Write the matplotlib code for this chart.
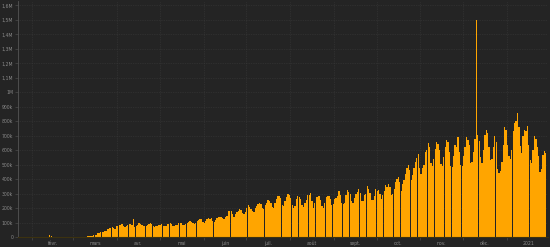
import numpy as np
import pandas as pd
import matplotlib
matplotlib.use("Agg")
import matplotlib.pyplot as plt
import matplotlib.dates as mdates
from matplotlib.ticker import FixedLocator, NullFormatter

# daily new cases, thousands (22 jan 2020 -> 28 jan 2021)
jan20 = [0.6, 0.1, 0.3, 0.5, 0.7, 0.8, 1.5, 1.2, 1.8, 2.1]
feb20 = [2.6, 2.8, 3.2, 3.9, 3.7, 3.2, 3.4, 2.7, 3.0, 2.6, 2.0, 0.5, 15.1, 6.5, 2.1,
         2.6, 2.1, 1.9, 0.5, 0.6, 1.0, 1.0, 0.6, 0.5, 0.9, 0.9, 1.2, 1.4, 1.8]
mar20 = [1.8, 2.0, 2.5, 2.2, 2.8, 2.9, 3.9, 3.8, 3.9, 4.6, 7.1, 7.6, 10.7, 11.0, 13.7,
         14.6, 18.8, 28.5, 31.6, 33.9, 33.3, 36.0, 45.5, 44.3, 55.0, 64.7, 66.5, 68.2,
         62.3, 60.3, 76.7]
apr20 = [78.5, 84.0, 86.1, 88.9, 74.5, 72.2, 76.3, 83.2, 88.5, 90.3, 86.9, 124.0, 73.0,
         75.5, 82.6, 96.0, 90.0, 86.4, 80.5, 76.8, 78.7, 84.0, 90.0, 97.0, 95.0, 80.5,
         72.7, 74.5, 79.0, 86.6]
may20 = [86.0, 91.0, 80.0, 75.0, 77.0, 91.0, 92.0, 97.0, 90.0, 81.0, 77.0, 84.0, 88.0,
         97.0, 100.0, 99.0, 83.0, 86.0, 95.0, 101.0, 108.0, 112.0, 105.0, 97.0, 93.0,
         98.0, 110.0, 120.0, 125.0, 129.0, 108.0]
jun20 = [102.0, 115.0, 125.0, 131.0, 129.0, 132.0, 114.0, 104.0, 120.0, 134.0, 138.0,
         137.0, 139.0, 131.0, 124.0, 140.0, 150.0, 184.0, 182.0, 180.0, 159.0, 142.0,
         163.0, 174.0, 182.0, 192.0, 188.0, 168.0, 160.0, 172.0]
jul20 = [205, 223, 210, 198, 182, 175, 205, 215, 228, 234, 230, 205, 198, 225, 240,
         257, 248, 240, 212, 205, 238, 265, 285, 282, 268, 222, 215, 250, 275, 299, 292]
aug20 = [268, 222, 205, 215, 262, 285, 280, 265, 220, 210, 235, 260, 290, 295, 308,
         250, 205, 240, 275, 280, 285, 258, 215, 200, 240, 280, 285, 284, 264, 220, 230]
sep20 = [265, 272, 285, 317, 292, 236, 230, 240, 290, 326, 312, 300, 248, 240, 270,
         300, 312, 333, 305, 250, 250, 290, 300, 354, 335, 305, 255, 257, 285, 331]
oct20 = [318, 326, 300, 265, 290, 320, 360, 350, 365, 345, 292, 300, 335, 380, 405,
         414, 380, 320, 370, 395, 440, 478, 498, 465, 395, 430, 480, 520, 545, 572, 480]
nov20 = [440, 480, 500, 590, 605, 648, 625, 510, 490, 540, 610, 655, 645, 605, 505,
         490, 555, 620, 671, 660, 590, 495, 485, 560, 640, 620, 694, 590, 500, 490]
dec20 = [560, 620, 694, 670, 640, 510, 520, 590, 680, 1500, 705, 665, 555, 510, 600,
         705, 740, 720, 625, 530, 540, 620, 698, 660, 470, 441, 460, 520, 640, 763, 740]
jan21 = [640, 560, 540, 600, 735, 790, 800, 859, 760, 630, 580, 700, 740, 730, 768,
         640, 530, 510, 600, 698, 680, 620, 560, 452, 470, 570, 597, 580]

cases = np.array(jan20 + feb20 + mar20 + apr20 + may20 + jun20 + jul20 + aug20 +
                 sep20 + oct20 + nov20 + dec20 + jan21) * 1000
dates = pd.date_range("2020-01-22", periods=len(cases), freq="D")

month_labels = ["févr.", "mars", "avr.", "mai", "juin", "juil.", "août", "sept.",
                "oct.", "nov.", "déc.", "2021"]
y_ticks = [0, 100e3, 200e3, 300e3, 400e3, 500e3, 600e3, 700e3, 800e3, 900e3,
           1e6, 1.1e6, 1.2e6, 1.3e6, 1.4e6, 1.5e6, 1.6e6]
y_labels = ["0", "100k", "200k", "300k", "400k", "500k", "600k", "700k", "800k",
            "900k", "1M", "1,1M", "1,2M", "1,3M", "1,4M", "1,5M", "1,6M"]

bg = "#242424"
fig = plt.figure(figsize=(5.5, 2.47), dpi=100, facecolor=bg)
ax = fig.add_axes([18 / 550, 9.7 / 247, 530 / 550, 236.3 / 247], facecolor=bg)

ax.bar(dates, cases, width=0.9, align="edge", color="#ffa500", linewidth=0,
       zorder=2)

ax.set_xlim(pd.Timestamp("2020-01-22"), pd.Timestamp("2021-01-30"))
ax.set_ylim(0, 1.63e6)

# month boundaries: ticks + grid, labels sit in the middle of each month
starts = pd.date_range("2020-02-01", "2021-01-01", freq="MS")
mids = [s + pd.Timedelta(days=s.days_in_month / 2) for s in starts]
ax.xaxis.set_major_locator(FixedLocator(mdates.date2num(starts)))
ax.xaxis.set_major_formatter(NullFormatter())
ax.xaxis.set_minor_locator(FixedLocator(mdates.date2num(mids)))
ax.set_xticklabels(month_labels, minor=True)
ax.tick_params(axis="x", which="major", length=2, width=0.4, color="#555555")
ax.tick_params(axis="x", which="minor", length=0, pad=2.5, labelsize=3.3,
               labelcolor="#8a8a8a")

ax.set_yticks(y_ticks)
ax.set_yticklabels(y_labels)
ax.tick_params(axis="y", length=2, width=0.4, color="#555555", pad=1.5,
               labelsize=3.3, labelcolor="#8a8a8a")

ax.grid(True, which="major", color="#3a3a3a", linestyle=(0, (1, 1.5)), linewidth=0.5,
        zorder=0)

for side in ["top", "right"]:
    ax.spines[side].set_visible(False)
ax.spines["left"].set_color("#555555")
ax.spines["left"].set_linewidth(0.6)
ax.spines["bottom"].set_color("#3c3210")
ax.spines["bottom"].set_linewidth(0.8)

fig.savefig("out.png", dpi=100, facecolor=bg)
